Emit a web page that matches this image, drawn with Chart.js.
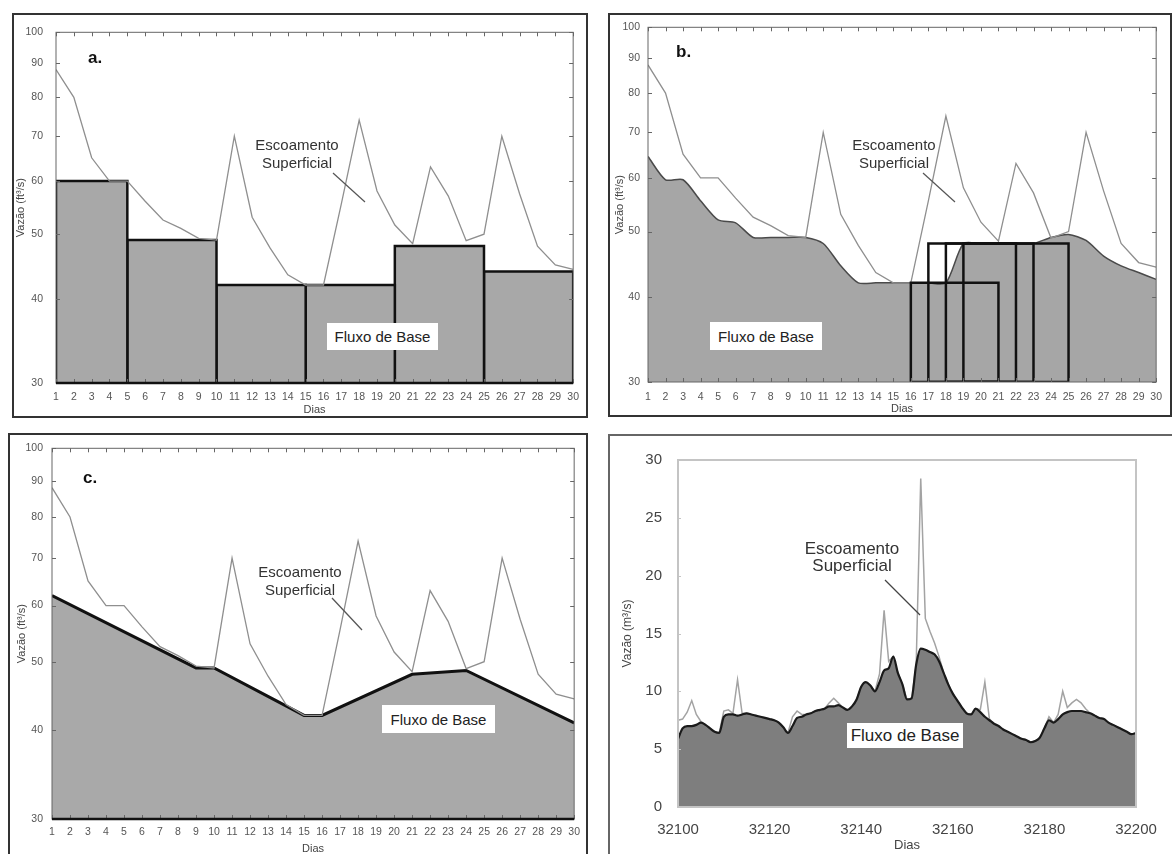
<!DOCTYPE html>
<html lang="pt">
<head>
<meta charset="UTF-8">
<title>Separação do fluxo de base</title>
<style>
    body { margin: 0; background: #fff; font-family: Arial, "Liberation Sans", sans-serif; }
    #page { position: relative; width: 1172px; height: 854px; overflow: hidden; }
    canvas { position: absolute; }
    .frame { position: absolute; box-sizing: border-box; border: 2px solid #333; pointer-events: none; }
    .note { position: absolute; transform: translate(-50%, -50%); text-align: center; white-space: nowrap; color: #333; font-size: 15px; line-height: 18px; }
    .base { position: absolute; box-sizing: border-box; background: #fff; color: #222; font-size: 15px; display: flex; align-items: center; justify-content: center; white-space: nowrap; }
    .tag { position: absolute; font-weight: bold; font-size: 17px; color: #111; line-height: 1; }
</style>
</head>
<body>
<div id="page">
    <canvas id="chartA" width="575" height="404" style="left:12px;top:13px"></canvas>
    <canvas id="chartB" width="563" height="403" style="left:608px;top:13px"></canvas>
    <canvas id="chartC" width="579" height="421" style="left:8px;top:433px"></canvas>
    <canvas id="chartD" width="564" height="419" style="left:608px;top:435px"></canvas>

    <div class="frame" style="left:12px;top:13px;width:576px;height:405px"></div>
    <div class="frame" style="left:608px;top:13px;width:564px;height:404px"></div>
    <div class="frame" style="left:8px;top:433px;width:580px;height:430px"></div>
    <div class="frame" style="left:608px;top:434px;width:580px;height:430px;border-color:#666"></div>

    <div class="tag" style="left:88px;top:49px">a.</div>
    <div class="tag" style="left:676px;top:43px">b.</div>
    <div class="tag" style="left:83px;top:469px">c.</div>

    <div class="note" style="left:297px;top:154px">Escoamento<br>Superficial</div>
    <div class="note" style="left:894px;top:154px">Escoamento<br>Superficial</div>
    <div class="note" style="left:300px;top:581px">Escoamento<br>Superficial</div>
    <div class="note" style="left:852px;top:557px;font-size:17px;line-height:17px">Escoamento<br>Superficial</div>

    <div class="base" style="left:327px;top:323px;width:111px;height:27px">Fluxo de Base</div>
    <div class="base" style="left:710px;top:322px;width:112px;height:28px">Fluxo de Base</div>
    <div class="base" style="left:382px;top:705px;width:113px;height:28px">Fluxo de Base</div>
    <div class="base" style="left:847px;top:723px;width:116px;height:25px;font-size:17px">Fluxo de Base</div>
</div>
<script src="https://cdn.jsdelivr.net/npm/chart.js@4.4.1/dist/chart.umd.min.js"></script>
<script>
    Chart.defaults.font.family = 'Arial, "Liberation Sans", sans-serif';
    Chart.defaults.animation = false;

    // hidrograma de 30 dias (ft³/s), paineis a, b e c
    const days = [1, 2, 3, 4, 5, 6, 7, 8, 9, 10, 11, 12, 13, 14, 15, 16, 17, 18, 19, 20, 21, 22, 23, 24, 25, 26, 27, 28, 29, 30];
    const runoff = [88, 80, 65, 60, 60, 56, 52.5, 51, 49.3, 49, 70, 53, 47.7, 43.5, 42, 42, 55.5, 74, 58, 51.6, 48.4, 63, 57, 48.9, 50, 70, 57.4, 48, 45, 44.3];
    const yTicksFt = [30, 40, 50, 60, 70, 80, 90, 100];

    // a. intervalo fixo
    const fixedStart = [1, 5, 10, 15, 20, 25];
    const fixedEnd = [5, 10, 15, 20, 25, 30];
    const fixedBase = [60, 49, 42, 42, 48, 44];

    // b. intervalo movel
    const slideBase = [64.5, 59.6, 59.6, 55.5, 52, 51.5, 49, 49, 49, 49, 48, 44.5, 42, 42, 42, 42, 42, 42, 48, 48, 48, 48, 48, 49, 49.5, 48.5, 46, 44.5, 43.5, 42.5];
    const windowStart = [16, 17, 18, 19];
    const windowEnd = [21, 22, 23, 25];
    const windowBase = [42, 48, 48, 48];

    // c. minimo local
    const minDays = [1, 9, 10, 15, 16, 21, 24, 30];
    const minBase = [62, 49, 49, 42, 42, 48, 48.6, 41];

    // d. serie observada (m³/s)
    const dDays = [32100, 32101, 32102, 32103, 32104, 32105, 32106, 32107, 32108, 32109,
        32110, 32111, 32112, 32113, 32114, 32115, 32116, 32117, 32118, 32119,
        32120, 32121, 32122, 32123, 32124, 32125, 32126, 32127, 32128, 32129,
        32130, 32131, 32132, 32133, 32134, 32135, 32136, 32137, 32138, 32139,
        32140, 32141, 32142, 32143, 32144, 32145, 32146, 32147, 32148, 32149,
        32150, 32151, 32152, 32153, 32154, 32155, 32156, 32157, 32158, 32159,
        32160, 32161, 32162, 32163, 32164, 32165, 32166, 32167, 32168, 32169,
        32170, 32171, 32172, 32173, 32174, 32175, 32176, 32177, 32178, 32179,
        32180, 32181, 32182, 32183, 32184, 32185, 32186, 32187, 32188, 32189,
        32190, 32191, 32192, 32193, 32194, 32195, 32196, 32197, 32198, 32199, 32200];
    const dTotal = [7.5, 7.6, 8.2, 9.2, 8.0, 7.4, 7.1, 6.8, 6.5, 6.4,
        8.3, 8.4, 8.1, 11.0, 8.1, 8.1, 8.0, 7.9, 7.8, 7.7,
        7.6, 7.5, 7.3, 6.9, 6.4, 7.8, 8.3, 8.0, 8.0, 8.1,
        8.3, 8.4, 8.5, 9.0, 9.4, 9.0, 8.6, 8.4, 8.7, 9.3,
        10.4, 10.8, 10.5, 10.0, 11.5, 17.0, 12.6, 13.0, 11.6, 10.6,
        9.3, 9.4, 12.3, 28.4, 16.3, 15.2, 14.2, 13.0, 11.6, 10.6,
        9.8, 9.2, 8.6, 8.1, 8.0, 8.5, 8.4, 10.8, 7.6, 7.2,
        7.0, 6.7, 6.5, 6.3, 6.1, 5.9, 5.8, 5.6, 5.7, 6.0,
        6.8, 7.8, 7.3, 8.0, 10.0, 8.6, 9.0, 9.3, 9.0, 8.5,
        8.1, 7.9, 7.7, 7.6, 7.3, 7.1, 6.9, 6.7, 6.5, 6.3, 6.4];
    const dBase = [5.9, 6.8, 7.0, 7.0, 7.1, 7.3, 7.1, 6.8, 6.5, 6.4,
        7.8, 8.0, 8.0, 7.9, 8.0, 8.1, 8.0, 7.9, 7.8, 7.7,
        7.6, 7.5, 7.3, 6.9, 6.4, 7.0, 7.7, 7.8, 8.0, 8.1,
        8.3, 8.4, 8.5, 8.7, 8.7, 8.8, 8.6, 8.4, 8.7, 9.3,
        10.4, 10.8, 10.5, 10.0, 10.8, 11.8, 12.0, 13.0, 11.6, 10.6,
        9.3, 9.4, 12.3, 13.7, 13.6, 13.4, 13.2, 12.6, 11.6, 10.6,
        9.8, 9.2, 8.6, 8.1, 8.0, 8.5, 8.2, 7.8, 7.5, 7.2,
        7.0, 6.7, 6.5, 6.3, 6.1, 5.9, 5.8, 5.6, 5.7, 6.0,
        6.8, 7.5, 7.3, 7.6, 8.0, 8.2, 8.3, 8.3, 8.3, 8.2,
        8.1, 7.9, 7.7, 7.6, 7.3, 7.1, 6.9, 6.7, 6.5, 6.3, 6.4];

    function pts(xs, ys) {
        return xs.map((x, i) => ({x: x, y: ys[i]}));
    }

    // retangulo apoiado no minimo do eixo
    function rect(s, e, v, closed) {
        let floor = yTicksFt[0];
        let r = [{x: s, y: floor}, {x: s, y: v}, {x: e, y: v}, {x: e, y: floor}];
        if (closed) r.push({x: s, y: floor});
        return r;
    }

    const innerTicks = {
        id: 'innerTicks',
        afterDatasetsDraw(chart, args, opts) {
            const {ctx, chartArea: a} = chart;
            const x = chart.scales.x, y = chart.scales.y;
            ctx.save();
            ctx.strokeStyle = opts.color;
            ctx.lineWidth = opts.width || 1;
            ctx.strokeRect(a.left, a.top, a.right - a.left, a.bottom - a.top);
            ctx.lineWidth = 1;
            ctx.beginPath();
            if (opts.xTicks) {
                x.ticks.forEach(t => {
                    let px = Math.round(x.getPixelForValue(t.value)) + 0.5;
                    ctx.moveTo(px, a.top); ctx.lineTo(px, a.top + opts.len);
                    ctx.moveTo(px, a.bottom); ctx.lineTo(px, a.bottom - opts.len);
                });
            }
            y.ticks.forEach(t => {
                let py = Math.round(y.getPixelForValue(t.value)) + 0.5;
                ctx.moveTo(a.left, py); ctx.lineTo(a.left + opts.len, py);
                if (opts.rightTicks) {
                    ctx.moveTo(a.right, py); ctx.lineTo(a.right - opts.len, py);
                }
            });
            ctx.stroke();
            if (opts.bottom) {
                ctx.strokeStyle = '#111';
                ctx.lineWidth = opts.bottom;
                ctx.beginPath();
                ctx.moveTo(a.left, a.bottom); ctx.lineTo(a.right, a.bottom);
                ctx.stroke();
            }
            ctx.restore();
        }
    };

    const leader = {
        id: 'leader',
        afterDraw(chart, args, opts) {
            const ctx = chart.ctx;
            ctx.save();
            ctx.strokeStyle = opts.color;
            ctx.lineWidth = 1.2;
            ctx.beginPath();
            ctx.moveTo(opts.x1, opts.y1);
            ctx.lineTo(opts.x2, opts.y2);
            ctx.stroke();
            ctx.restore();
        }
    };

    function dayScales(p) {
        return {
            x: {
                type: 'linear', min: 1, max: 30,
                afterFit: s => { s.height = p.xh; },
                grid: {display: false, drawTicks: false}, border: {display: false},
                ticks: {stepSize: 1, autoSkip: false, maxRotation: 0, padding: p.xp, color: '#555', font: {size: 10.5}, callback: v => v},
                title: {display: true, text: 'Dias', color: '#444', font: {size: 11}, padding: {top: 0, bottom: p.tb}}
            },
            y: {
                type: 'logarithmic', min: 30, max: 100,
                afterFit: s => { s.width = p.yw; },
                afterBuildTicks: s => { s.ticks = yTicksFt.map(v => ({value: v})); },
                grid: {display: false, drawTicks: false}, border: {display: false},
                ticks: {padding: p.yp, color: '#555', font: {size: 10.5}, callback: v => v},
                title: {display: true, text: 'Vazão (ft³/s)', color: '#444', font: {size: 11}, padding: {top: p.tt, bottom: 0}}
            }
        };
    }

    const runoffLine = {
        data: pts(days, runoff), borderColor: '#8f8f8f', borderWidth: 1.3,
        pointRadius: 0, fill: false, tension: 0, order: 0
    };

    // painel a
    let blocks = fixedStart.map((s, i) => ({
        data: rect(s, fixedEnd[i], fixedBase[i], false),
        borderColor: '#111', borderWidth: 2.5, backgroundColor: '#a8a8a8',
        fill: 'start', pointRadius: 0, tension: 0, order: 1
    }));
    new Chart(document.getElementById('chartA'), {
        type: 'line',
        data: {datasets: [Object.assign({}, runoffLine)].concat(blocks)},
        options: {
            responsive: false,
            layout: {padding: {left: 0, top: 11, right: 9, bottom: 0}},
            plugins: {
                legend: {display: false}, tooltip: {enabled: false},
                innerTicks: {color: '#666', len: 4, xTicks: true, rightTicks: true, bottom: 2.5},
                leader: {color: '#555', x1: 321, y1: 160, x2: 353, y2: 189}
            },
            scales: dayScales({xh: 34, xp: 8, tb: 0, yw: 44, yp: 13, tt: 2})
        },
        plugins: [innerTicks, leader]
    });

    // painel b
    let windows = windowStart.map((s, i) => ({
        data: rect(s, windowEnd[i], windowBase[i], true),
        borderColor: '#111', borderWidth: 2.5, fill: false,
        pointRadius: 0, tension: 0, order: 1
    }));
    new Chart(document.getElementById('chartB'), {
        type: 'line',
        data: {
            datasets: [
                Object.assign({}, runoffLine, {order: 2}),
                {
                    data: pts(days, slideBase), borderColor: '#4a4a4a', borderWidth: 1.5,
                    backgroundColor: '#a6a6a6', fill: 'start', pointRadius: 0, tension: 0.25, order: 3
                }
            ].concat(windows)
        },
        options: {
            responsive: false,
            layout: {padding: {left: 0, top: 9, right: 5, bottom: 0}},
            plugins: {
                legend: {display: false}, tooltip: {enabled: false},
                innerTicks: {color: '#666', len: 4, xTicks: true, rightTicks: true},
                leader: {color: '#555', x1: 315, y1: 160, x2: 347, y2: 189}
            },
            scales: dayScales({xh: 34, xp: 9, tb: 0, yw: 40, yp: 8, tt: 5})
        },
        plugins: [innerTicks, leader]
    });

    // painel c
    new Chart(document.getElementById('chartC'), {
        type: 'line',
        data: {
            datasets: [
                Object.assign({}, runoffLine),
                {
                    data: pts(minDays, minBase), borderColor: '#111', borderWidth: 3,
                    backgroundColor: '#a9a9a9', fill: 'start', pointRadius: 0, tension: 0, order: 1
                }
            ]
        },
        options: {
            responsive: false,
            layout: {padding: {left: 0, top: 11, right: 9, bottom: 0}},
            plugins: {
                legend: {display: false}, tooltip: {enabled: false},
                innerTicks: {color: '#666', len: 4, xTicks: true, rightTicks: true, bottom: 2.5},
                leader: {color: '#555', x1: 324, y1: 165, x2: 354, y2: 197}
            },
            scales: dayScales({xh: 35, xp: 7, tb: -2, yw: 44, yp: 9, tt: 7})
        },
        plugins: [innerTicks, leader]
    });

    // painel d
    new Chart(document.getElementById('chartD'), {
        type: 'line',
        data: {
            datasets: [
                {
                    data: pts(dDays, dBase), borderColor: '#1a1a1a', borderWidth: 2.2,
                    backgroundColor: '#7e7e7e', fill: 'origin', pointRadius: 0,
                    cubicInterpolationMode: 'monotone', order: 0
                },
                {
                    data: pts(dDays, dTotal), borderColor: '#a3a3a3', borderWidth: 1.5,
                    fill: false, pointRadius: 0, tension: 0, order: 1
                }
            ]
        },
        options: {
            responsive: false,
            layout: {padding: {left: 0, top: 15, right: 36, bottom: 0}},
            plugins: {
                legend: {display: false}, tooltip: {enabled: false},
                innerTicks: {color: '#c4c4c4', width: 2, len: 3},
                leader: {color: '#444', x1: 277, y1: 145, x2: 312, y2: 180}
            },
            scales: {
                x: {
                    type: 'linear', min: 32100, max: 32200,
                    afterFit: s => { s.height = 47; },
                    grid: {display: false, drawTicks: false}, border: {display: false},
                    ticks: {stepSize: 20, maxRotation: 0, padding: 14, color: '#444', font: {size: 15}, callback: v => String(v)},
                    title: {display: true, text: 'Dias', color: '#444', font: {size: 13}, padding: {top: 0, bottom: 1}}
                },
                y: {
                    min: 0, max: 30,
                    afterFit: s => { s.width = 70; },
                    grid: {display: false, drawTicks: false}, border: {display: false},
                    ticks: {stepSize: 5, padding: 16, color: '#444', font: {size: 15}},
                    title: {display: true, text: 'Vazão (m³/s)', color: '#444', font: {size: 12}, padding: {top: 12, bottom: 0}}
                }
            }
        },
        plugins: [innerTicks, leader]
    });
</script>
</body>
</html>
